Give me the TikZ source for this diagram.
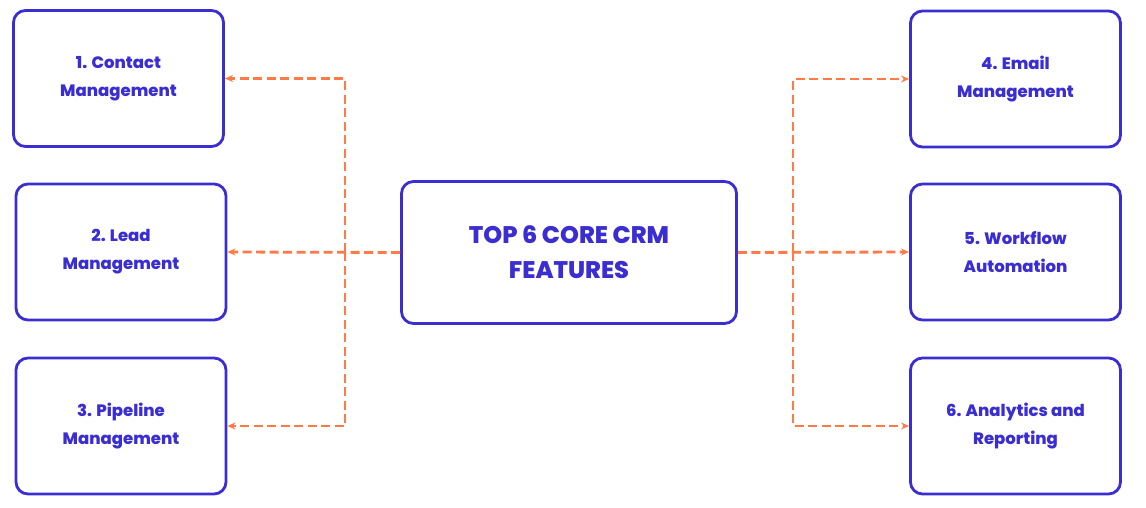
\documentclass[tikz,border=0pt]{standalone}
\usepackage{fontspec}
\setmainfont{Poppins}[BoldFont={* ExtraBold}]
\usepackage{xcolor}
\usetikzlibrary{arrows.meta, positioning}

\definecolor{crmblue}{HTML}{3A2ED3}
\definecolor{crmorange}{HTML}{FF7A45}

\begin{document}
\begin{tikzpicture}[x=1pt, y=-1pt, feature/.style={rectangle, rounded corners=12pt, draw=crmblue, line width=2.8pt, minimum width=210pt, minimum height=136pt, align=center, text=crmblue, font=\fontsize{16.5}{28}\selectfont\bfseries}, hub/.style={feature, minimum width=335pt, minimum height=142pt, font=\fontsize{24}{35}\selectfont\bfseries}, link/.style={draw=crmorange, line width=2.8pt, dash pattern=on 9pt off 4.5pt, -{Stealth[length=8pt, width=7pt]}}]

            \useasboundingbox (0,0) rectangle (1146,507);

            \node[hub] (core) at (569,252.5) {TOP 6 CORE CRM\\FEATURES};
            \node[feature] (F1) at (118.5,78.5) {1. Contact\\Management};
            \node[feature] (F2) at (121,252) {2. Lead\\Management};
            \node[feature] (F3) at (121,426) {3. Pipeline\\Management};
            \node[feature] (F4) at (1015.5,79) {4. Email\\Management};
            \node[feature] (F5) at (1015.5,252) {5. Workflow\\Automation};
            \node[feature] (F6) at (1015.5,426) {6. Analytics and\\Reporting};

            \coordinate (JL) at (345,252);
            \coordinate (JR) at (793,252);

            \draw[link] (core.west) -- (F2.east);
            \draw[link] (core.east) -- (F5.west);
            \draw[link] (JL) |- (F1.east);
            \draw[link] (JL) |- (F3.east);
            \draw[link] (JR) |- (F4.west);
            \draw[link] (JR) |- (F6.west);

        \end{tikzpicture}
\end{document}
